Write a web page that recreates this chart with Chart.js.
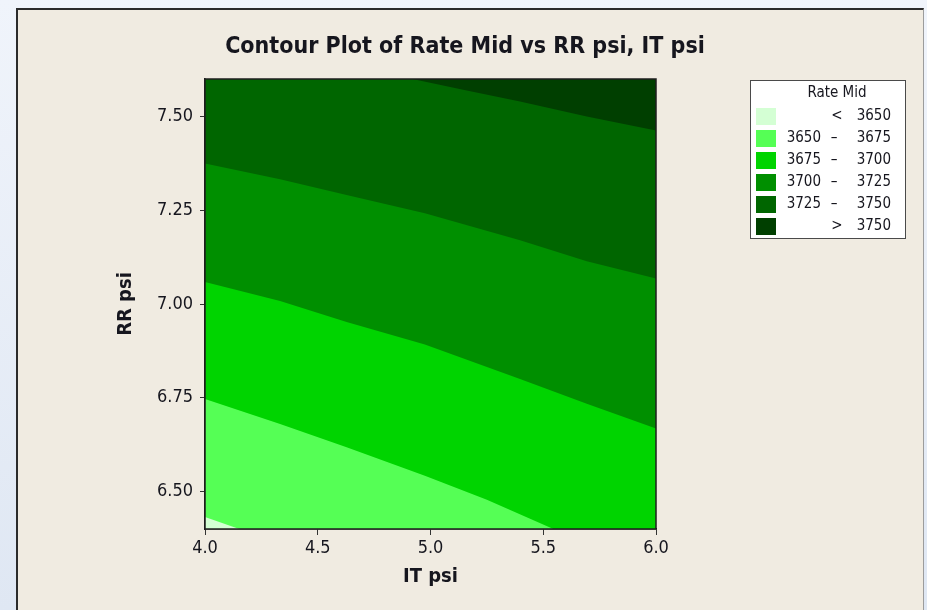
<!DOCTYPE html>
<html>
<head>
<meta charset="utf-8">
<title>Contour Plot of Rate Mid</title>
<script src="https://cdn.jsdelivr.net/npm/chart.js@4.4.1/dist/chart.umd.min.js"></script>
<style>
  html, body { margin: 0; padding: 0; }
  body {
    width: 927px; height: 610px; overflow: hidden; position: relative;
    background: linear-gradient(180deg, #f0f4fb 0%, #dfe7f3 100%);
  }
  #panel {
    position: absolute; left: 16px; top: 8px; width: 905px; height: 620px;
    background: #f0ebe1;
    border-left: 2px solid #2b2b2b; border-top: 2px solid #2b2b2b; border-right: 1px solid #9c9c9c;
  }
  #plot { position: absolute; left: 0; top: 0; }
</style>
</head>
<body>
<div id="panel"></div>
<canvas id="plot" width="927" height="610"></canvas>
<script>
// contour levels of Rate Mid and the fill used for each band (lowest first)
const levels = [3650, 3675, 3700, 3725, 3750];
const bandColors = ['#d4ffd4', '#55ff55', '#00d400', '#008f00', '#006600', '#003f00'];

// contour edges: IT psi (x) and RR psi (y) along each level
const it3650 = [4.0, 4.152, 6.0];
const rr3650 = [6.432, 6.40, 6.40];
const it3675 = [4.0, 4.333, 4.628, 4.975, 5.25, 5.545, 6.0];
const rr3675 = [6.747, 6.680, 6.618, 6.542, 6.478, 6.40, 6.40];
const it3700 = [4.0, 4.333, 4.628, 4.975, 5.397, 5.693, 6.0];
const rr3700 = [7.059, 7.008, 6.952, 6.892, 6.800, 6.734, 6.668];
const it3725 = [4.0, 4.333, 4.628, 4.975, 5.397, 5.693, 6.0];
const rr3725 = [7.375, 7.333, 7.291, 7.242, 7.170, 7.114, 7.068];
const it3750 = [4.0, 4.92, 5.15, 5.397, 5.693, 6.0];
const rr3750 = [7.60, 7.60, 7.571, 7.540, 7.500, 7.463];

const xTicks = [4.0, 4.5, 5.0, 5.5, 6.0];
const yTicks = [6.50, 6.75, 7.00, 7.25, 7.50];

const FONT = '"DejaVu Sans Condensed", "DejaVu Sans", sans-serif';
const INK = '#16161e';

const edges = [[it3650, rr3650], [it3675, rr3675], [it3700, rr3700], [it3725, rr3725], [it3750, rr3750]];

// each edge fills up to the top of the plot; higher levels are painted over lower ones
const datasets = edges.map((e, i) => ({
  label: String(levels[i]),
  data: e[0].map((x, k) => ({ x: x, y: e[1][k] })),
  fill: 'end',
  backgroundColor: bandColors[i + 1],
  borderColor: 'rgba(0,0,0,0)',
  borderWidth: 0,
  pointRadius: 0,
  tension: 0,
  order: edges.length - i
}));

const plotDecor = {
  id: 'plotDecor',
  beforeDatasetsDraw(chart) {
    const a = chart.chartArea, ctx = chart.ctx;
    ctx.save();
    ctx.fillStyle = bandColors[0];
    ctx.fillRect(a.left, a.top, a.right - a.left, a.bottom - a.top);
    ctx.restore();
  },
  afterDraw(chart) {
    const a = chart.chartArea, ctx = chart.ctx;
    ctx.save();
    // frame round the plot
    ctx.strokeStyle = '#1e1e1e';
    ctx.lineWidth = 1.5;
    ctx.strokeRect(a.left, a.top, a.right - a.left, a.bottom - a.top);

    // title
    ctx.fillStyle = INK;
    ctx.font = 'bold 23px ' + FONT;
    ctx.textAlign = 'center';
    ctx.textBaseline = 'middle';
    ctx.fillText('Contour Plot of Rate Mid vs RR psi, IT psi', 465, 47);

    // legend box
    const lx = 750, ly = 80, lw = 156, lh = 159;
    ctx.fillStyle = '#ffffff';
    ctx.fillRect(lx, ly, lw, lh);
    ctx.strokeStyle = '#4a4a4a';
    ctx.lineWidth = 1;
    ctx.strokeRect(lx + 0.5, ly + 0.5, lw - 1, lh - 1);

    ctx.font = '15px ' + FONT;
    ctx.fillStyle = INK;
    ctx.textAlign = 'center';
    ctx.fillText('Rate Mid', 837, 93);
    for (let i = 0; i < bandColors.length; i++) {
      const cy = 116 + i * 22;
      ctx.fillStyle = bandColors[i];
      ctx.fillRect(756, cy - 8, 20, 17);
      ctx.fillStyle = INK;
      ctx.textAlign = 'center';
      if (i === 0) {
        ctx.fillText('<', 837, cy);
      } else if (i === bandColors.length - 1) {
        ctx.fillText('>', 837, cy);
      } else {
        ctx.textAlign = 'right';
        ctx.fillText(String(levels[i - 1]), 821, cy);
        ctx.textAlign = 'center';
        ctx.fillText('\u2013', 834, cy);
      }
      ctx.textAlign = 'right';
      const hi = i === bandColors.length - 1 ? levels[i - 1] : levels[i];
      ctx.fillText(String(hi), 891, cy);
    }
    ctx.restore();
  }
};

new Chart(document.getElementById('plot'), {
  type: 'line',
  data: { datasets: datasets },
  plugins: [plotDecor],
  options: {
    responsive: false,
    animation: false,
    devicePixelRatio: 1,
    layout: { padding: { left: 0, top: 79, right: 271, bottom: 0 } },
    plugins: {
      legend: { display: false },
      tooltip: { enabled: false },
      filler: { propagate: false }
    },
    scales: {
      x: {
        type: 'linear',
        min: 4, max: 6,
        afterBuildTicks: s => { s.ticks = xTicks.map(v => ({ value: v })); },
        afterFit: s => { s.height = 81; },
        ticks: {
          callback: v => Number(v).toFixed(1),
          font: { family: FONT, size: 18 },
          color: INK,
          padding: 3,
          maxRotation: 0
        },
        grid: { drawOnChartArea: false, drawTicks: true, tickLength: 6, color: '#333333' },
        border: { display: true, color: '#1e1e1e', width: 1.5 },
        title: {
          display: true, text: 'IT psi', color: INK,
          font: { family: FONT, size: 20, weight: 'bold' },
          padding: { top: 0, bottom: 21 }
        }
      },
      y: {
        type: 'linear',
        min: 6.4, max: 7.6,
        afterBuildTicks: s => { s.ticks = yTicks.map(v => ({ value: v })); },
        afterFit: s => { s.width = 205; },
        ticks: {
          callback: v => Number(v).toFixed(2),
          font: { family: FONT, size: 18 },
          color: INK,
          padding: 7
        },
        grid: { drawOnChartArea: false, drawTicks: true, tickLength: 5, color: '#333333' },
        border: { display: true, color: '#1e1e1e', width: 1.5 },
        title: {
          display: true, text: 'RR psi', color: INK,
          font: { family: FONT, size: 20, weight: 'bold' },
          padding: { top: 114, bottom: 0 }
        }
      }
    }
  }
});
</script>
</body>
</html>
